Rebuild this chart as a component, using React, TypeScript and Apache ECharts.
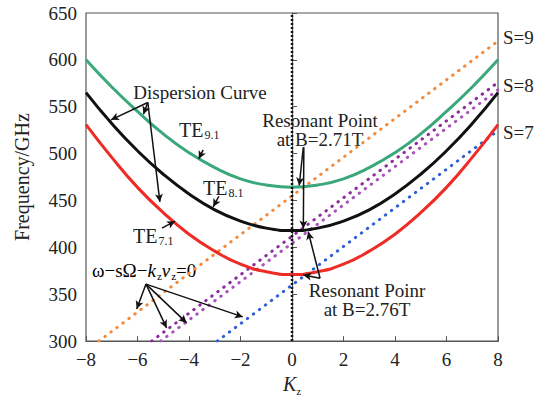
import React, { useEffect, useRef } from "react";
import * as echarts from "echarts";

const kz = [-8, -7, -6, -5, -4, -3, -2, -1, 0, 1, 2, 3, 4, 5, 6, 7, 8];
const te91 = [600, 571, 545, 521, 501, 485, 473, 466.5, 464, 466.5, 473, 485, 501, 521, 545, 571, 600];
const te81 = [565, 532, 503, 478, 457, 440, 428, 420.5, 418, 420.5, 428, 440, 457, 478, 503, 532, 565];
const te71 = [531, 496, 464, 437, 414, 396, 382, 374, 371, 374, 382, 396, 414, 437, 464, 496, 531];

const s9Line = [[-7.5, 300], [8, 620]];
const s8aLine = [[-5.45, 300], [8, 576]];
const s8bLine = [[-5.1, 300], [8, 568]];
const s7Line = [[-2.9, 300], [8, 524.5]];

const arrowSegments = [
  [[-5.6, 554.5], [-7.03, 536]],
  [[-5.6, 554.5], [-5.77, 542]],
  [[-5.6, 554.5], [-5.13, 448.5]],
  [[-3.45, 504], [-3.62, 494.4]],
  [[-2.84, 454.5], [-3.06, 443.2]],
  [[-5.05, 420.5], [-4.54, 427.9]],
  [[0.44, 506.8], [0.28, 466]],
  [[0.46, 506.8], [0.44, 420]],
  [[1.09, 367.1], [0.63, 416.6]],
  [[1.09, 367.1], [0.44, 370.6]],
  [[-5.67, 360.8], [-6.03, 334.3]],
  [[-5.67, 360.8], [-4.87, 314.1]],
  [[-5.67, 360.8], [-4.09, 319.4]],
  [[-5.67, 360.8], [-1.91, 325.8]],
];

const FONT = "serif";

const pair = (xs: number[], ys: number[]) => xs.map((x, i) => [x, ys[i]]);

const dotStyle = (color: string) => ({
  color,
  width: 3,
  type: [0.5, 7] as any,
  cap: "round" as const,
});

const sub = (size: number) => ({ fontSize: size, fontFamily: FONT, color: "#222", verticalAlign: "top", padding: [9, 0, 0, 1] });
const main = (size: number) => ({ fontSize: size, fontFamily: FONT, color: "#222", verticalAlign: "top" });

export default function App() {
  const ref = useRef<HTMLDivElement>(null);
  useEffect(() => {
    if (!ref.current) return;
    const chart = echarts.init(ref.current, undefined, { renderer: "svg" });
    const txt = (x: number, y: number, text: string, align = "center", lineHeight = 19) => ({
      type: "text",
      x,
      y,
      style: { text, fontSize: 19, fontFamily: FONT, fill: "#222", align, verticalAlign: "middle", lineHeight },
    });
    const te = (x: number, y: number, n: string) => ({
      type: "text",
      x,
      y,
      style: {
        text: `{a|TE}{b|${n}}`,
        rich: { a: main(20), b: sub(12) },
        fill: "#222",
        align: "left",
        verticalAlign: "top",
      },
    });
    chart.setOption({
      animation: false,
      backgroundColor: "#fff",
      textStyle: { fontFamily: FONT },
      grid: { left: 86, right: 48, top: 13, bottom: 58, show: true, borderColor: "#555", borderWidth: 1.2 },
      xAxis: {
        type: "value",
        min: -8,
        max: 8,
        interval: 2,
        splitLine: { show: false },
        axisLine: { lineStyle: { color: "#555", width: 1.2 } },
        axisTick: { inside: true, length: 5, lineStyle: { color: "#555" } },
        axisLabel: {
          fontSize: 19,
          fontFamily: FONT,
          color: "#222",
          margin: 9,
          formatter: (v: number) => String(v).replace("-", "\u2212"),
        },
        name: "{i|K}{s|z}",
        nameLocation: "middle",
        nameGap: 28,
        nameTextStyle: {
          rich: {
            i: { fontSize: 20, fontFamily: FONT, fontStyle: "italic", color: "#222", verticalAlign: "top" },
            s: { fontSize: 11, fontFamily: FONT, color: "#222", verticalAlign: "top", padding: [11, 0, 0, 0] },
          },
        },
      },
      yAxis: {
        type: "value",
        min: 300,
        max: 650,
        interval: 50,
        splitLine: { show: false },
        axisLine: { show: true, lineStyle: { color: "#555", width: 1.2 } },
        axisTick: { show: true, inside: true, length: 5, lineStyle: { color: "#555" } },
        axisLabel: { fontSize: 19, fontFamily: FONT, color: "#222", margin: 9 },
        name: "Frequency/GHz",
        nameLocation: "middle",
        nameGap: 54,
        nameTextStyle: { fontSize: 20, fontFamily: FONT, color: "#222" },
      },
      series: [
        { type: "line", name: "S=9", data: s9Line, symbol: "none", lineStyle: dotStyle("#f58a3c") },
        { type: "line", name: "S=8a", data: s8aLine, symbol: "none", lineStyle: dotStyle("#8a2c9c") },
        { type: "line", name: "S=8b", data: s8bLine, symbol: "none", lineStyle: dotStyle("#a854bb") },
        { type: "line", name: "S=7", data: s7Line, symbol: "none", lineStyle: dotStyle("#3060d0") },
        { type: "line", name: "TE9.1", data: pair(kz, te91), smooth: true, symbol: "none", lineStyle: { color: "#3aa87a", width: 3 } },
        { type: "line", name: "TE8.1", data: pair(kz, te81), smooth: true, symbol: "none", lineStyle: { color: "#111", width: 3 } },
        { type: "line", name: "TE7.1", data: pair(kz, te71), smooth: true, symbol: "none", lineStyle: { color: "#ee2b25", width: 3 } },
        {
          type: "line",
          name: "kz0",
          data: [[0, 300], [0, 650]],
          symbol: "none",
          lineStyle: { color: "#111", width: 2.5, type: [2, 2] as any },
          markLine: {
            silent: true,
            symbol: ["none", "arrow"],
            symbolSize: [6, 8],
            label: { show: false },
            lineStyle: { color: "#111", width: 1.5, type: "solid" },
            data: arrowSegments.map(([a, b]) => [{ coord: a }, { coord: b }]),
          },
        },
      ],
      graphic: [
        txt(200, 92, "Dispersion Curve"),
        te(179, 120, "9.1"),
        te(203, 178, "8.1"),
        te(133, 226, "7.1"),
        {
          type: "text",
          x: 92,
          y: 261,
          style: {
            text: "{n|\u03c9\u2212s\u03a9\u2212}{i|k}{s|z}{i|v}{s|z}{n|=0}",
            rich: {
              n: main(19),
              i: { ...main(19), fontStyle: "italic" },
              s: sub(11),
            },
            align: "left",
            verticalAlign: "top",
          },
        },
        txt(320, 130, "Resonant Point\nat B=2.71T"),
        txt(367, 300, "Resonant Poinr\nat B=2.76T"),
        txt(503, 37, "S=9", "left"),
        txt(503, 85, "S=8", "left"),
        txt(503, 132, "S=7", "left"),
      ],
    });
    return () => chart.dispose();
  }, []);
  return <div ref={ref} style={{ position: "fixed", left: 0, top: 0, width: 546, height: 401 }} />;
}
